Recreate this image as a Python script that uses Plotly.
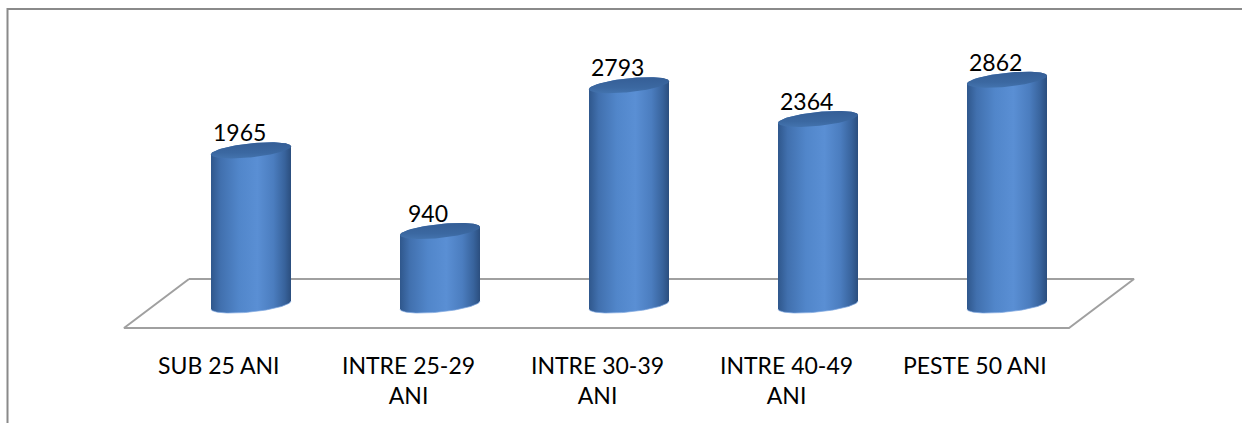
import numpy as np
import plotly.graph_objects as go

# ---- data ----
categories = ["SUB 25 ANI", "INTRE 25-29<br>ANI", "INTRE 30-39<br>ANI",
              "INTRE 40-49<br>ANI", "PESTE 50 ANI"]
values = [1965, 940, 2793, 2364, 2862]

# ---- geometry (pixels -> axis units) ----
W, H = 1242, 425
PX_PER_CAT = 189.0
X0_PX = 251.0
BASE_PX = 305.0
PX_PER_UNIT = 0.0787

x_range = [-X0_PX / PX_PER_CAT, (W - X0_PX) / PX_PER_CAT]
y_range = [(BASE_PX - H) / PX_PER_UNIT, BASE_PX / PX_PER_UNIT]


def ux(px):
    return px / PX_PER_CAT


def uy(px):
    return px / PX_PER_UNIT


a = ux(40)      # cylinder radius
b = uy(7)       # ellipse semi-minor
tilt = uy(4)    # ellipse tilt (right side higher)

side_scale = [[0.0, "#2f578c"], [0.12, "#4170ae"], [0.35, "#5186ca"],
              [0.58, "#5a8fd4"], [0.78, "#4b7dbf"], [0.92, "#38639c"],
              [1.0, "#2b4e7e"]]
top_scale = [[0.0, "#4373ae"], [0.35, "#3b68a1"], [1.0, "#355e96"]]


def ell(cx, cy, th):
    return cx + a * np.cos(th), cy + tilt * np.cos(th) + b * np.sin(th)


fig = go.Figure()
n = len(categories)

# floor
dx = ux(32.5)
back = uy(BASE_PX - 279)
front = uy(BASE_PX - 328)
fx = [-0.5 + dx, n - 0.5 + dx, n - 0.5 - dx, -0.5 - dx, -0.5 + dx]
fy = [back, back, front, front, back]
fig.add_trace(go.Scatter(x=fx, y=fy, mode="lines",
                         line=dict(color="#a0a0a0", width=2),
                         hoverinfo="skip", showlegend=False))

for i, v in enumerate(values):
    th1 = np.linspace(np.pi, 2 * np.pi, 60)
    th2 = np.linspace(0, np.pi, 60)
    bx, by = ell(i, 0, th1)
    tx, ty = ell(i, v, th2)
    sx = np.concatenate([bx, tx, bx[:1]])
    sy = np.concatenate([by, ty, by[:1]])
    fig.add_trace(go.Scatter(x=sx, y=sy, mode="lines", fill="toself",
                             line=dict(width=0, color="rgba(0,0,0,0)"),
                             fillgradient=dict(type="horizontal", colorscale=side_scale),
                             hoverinfo="skip", showlegend=False))
    # bottom rim highlight
    fig.add_trace(go.Scatter(x=bx, y=by, mode="lines",
                             line=dict(width=1, color="rgba(130,170,225,0.7)"),
                             hoverinfo="skip", showlegend=False))
    th = np.linspace(0, 2 * np.pi, 120)
    ex, ey = ell(i, v, th)
    fig.add_trace(go.Scatter(x=ex, y=ey, mode="lines", fill="toself",
                             line=dict(width=0, color="rgba(0,0,0,0)"),
                             fillgradient=dict(type="vertical", colorscale=top_scale),
                             hoverinfo="skip", showlegend=False))
    fig.add_annotation(x=i, y=v, text=str(v), showarrow=False,
                       xshift=-12, yshift=18, yanchor="middle",
                       font=dict(family="Lato", size=23, color="#000000"))
    fig.add_annotation(x=i, y=0, text=categories[i], showarrow=False,
                       xshift=-32, yshift=-(349 - BASE_PX), yanchor="top",
                       align="center",
                       font=dict(family="Lato", size=23, color="#000000"))

# chart border (top + left visible)
fig.add_shape(type="path", xref="paper", yref="paper",
              path=f"M {7.5/W},{1-423/H} L {7.5/W},{1-9/H} L 1.01,{1-9/H}",
              line=dict(color="#8a8a8a", width=2))

fig.update_layout(
    width=W, height=H,
    margin=dict(l=0, r=0, t=0, b=0),
    paper_bgcolor="white", plot_bgcolor="white",
    xaxis=dict(range=x_range, visible=False, fixedrange=True),
    yaxis=dict(range=y_range, visible=False, fixedrange=True),
    showlegend=False,
)

fig.write_html("out.html", config={"displayModeBar": False},
               post_script="document.body.style.margin='0';document.body.style.overflow='hidden';")
